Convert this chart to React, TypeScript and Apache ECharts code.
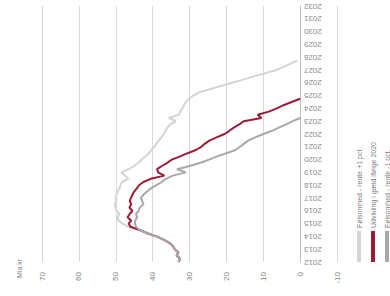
import React, { useEffect, useRef } from "react";
import * as echarts from "echarts";

const years = ["2012","2013","2014","2015","2016","2017","2018","2019","2020","2021","2022","2023","2024","2025","2026","2027","2028","2029","2030","2031","2032"];
const quarterNames = ["K1", "K2", "K3", "K4"];

const seriesNames = [
  "Følsomhed - rente +1 pct.",
  "Udvikling i gæld ifølge 2020",
  "Følsomhed - rente -1 pct.",
];
const seriesColors = ["#d4d4d4", "#9e1b34", "#a8a8a8"];

const renteOp = [33, 32.5, 33.5, 33, 34, 34.5, 35.5, 37, 39, 41.5, 43.5,
  46.5, 48.2, 49.3, 49.5, 49, 49.8, 50, 50.3, 49.8, 50, 49.8, 49.5, 49, 48.7, 48.3, 46.6, 47.5, 48.5, 46.5, 45,
  43.8, 43, 42, 41, 40.3, 39.5, 39, 38.3, 37.6, 37, 36.5, 36, 35.2, 33.7, 35.6, 32.9, 32.5, 32, 31.5, 31,
  30.1, 29, 27.4, 24.5, 21.5, 18.4, 15.5, 12.5, 9.5, 6.5, 4.5, 2.5, 0.8];
const basis = [33, 32.5, 33.5, 33, 34, 34.5, 35.5, 37, 39, 41.5, 43.5,
  46, 46.5, 45.8, 46.8, 46.2, 45.5, 46.3, 45.8, 46.2, 45.9, 45.5, 45, 44.3, 43.7, 42.5, 40.5, 36.8, 38.5, 38.8, 37.5,
  36, 34.8, 32.5, 30.5, 28.3, 26.8, 25.8, 24.5, 22.5, 20.5, 19.2, 18, 16.5, 15.3, 10.5, 11.5, 8.5, 6.3, 4.5, 2.3, 0];
const renteNed = [33, 32.5, 33.5, 33, 34, 34.5, 35.5, 37, 39, 41.5, 43.5,
  44.5, 44.8, 44.7, 44.2, 44.5, 43.8, 43.5, 42.5, 42.8, 43.2, 42.5, 41.5, 40.5, 39, 37.5, 36.4, 34.5, 31, 33.4, 30,
  27, 24.7, 22.5, 20, 17.5, 16.3, 15.2, 14, 12, 10, 7.6, 5.8, 3.8, 2, 0];

const valueMin = -10;
const valueMax = 70;
const valueStep = 10;
const unitLabel = "Mia kr";

export default function App() {
  const ref = useRef<HTMLDivElement>(null);
  useEffect(() => {
    document.body.style.margin = "0";
    const chart = echarts.init(ref.current!, null, { renderer: "svg" });
    const quarters = years.flatMap((y) => quarterNames.map((q) => y + q)).slice(0, (years.length - 1) * 4 + 1);
    const data = [renteOp, basis, renteNed];
    const font = "Liberation Sans, Arial, sans-serif";
    const legendX = [359, 373, 387];
    const graphic: any[] = [
      {
        type: "text",
        x: 19,
        y: 278,
        rotation: Math.PI / 2,
        style: { text: unitLabel, fill: "#7f7f7f", fontSize: 7, fontFamily: font, textAlign: "left", textVerticalAlign: "middle" },
      },
    ];
    seriesNames.forEach((n, i) => {
      graphic.push({
        type: "rect",
        shape: { x: legendX[i] - 2, y: 231, width: 4, height: 31 },
        style: { fill: seriesColors[i] },
      });
      graphic.push({
        type: "text",
        x: legendX[i],
        y: 228,
        rotation: Math.PI / 2,
        style: { text: n, fill: "#7f7f7f", fontSize: 7, fontFamily: font, textAlign: "left", textVerticalAlign: "middle" },
      });
    });
    chart.setOption({
      animation: false,
      textStyle: { fontFamily: font },
      grid: { left: 42, right: 53, top: 6, bottom: 34 },
      xAxis: {
        type: "value",
        inverse: true,
        min: valueMin,
        max: valueMax,
        interval: valueStep,
        position: "bottom",
        axisLine: { show: false },
        axisTick: { show: false },
        splitLine: { lineStyle: { color: "#d9d9d9", width: 1 } },
        axisLabel: { rotate: 90, fontSize: 8, color: "#7f7f7f", margin: 10 },
      },
      yAxis: {
        type: "category",
        data: quarters,
        boundaryGap: false,
        position: "right",
        offset: -37,
        axisLine: { show: true, onZero: false, lineStyle: { color: "#bfbfbf" } },
        axisTick: { show: false },
        splitLine: { show: false },
        axisLabel: {
          interval: 3,
          rotate: 180,
          fontSize: 8,
          color: "#8c8c8c",
          margin: 4,
          formatter: (v: string) => v.slice(0, 4),
        },
      },
      series: seriesNames.map((n, i) => ({
        name: n,
        type: "line",
        data: data[i],
        showSymbol: false,
        symbol: "none",
        lineStyle: { color: seriesColors[i], width: 2 },
        z: i === 2 ? 4 : i === 1 ? 3 : 2,
      })),
      graphic,
    });
    return () => chart.dispose();
  }, []);
  return <div ref={ref} style={{ width: 390, height: 296 }} />;
}
